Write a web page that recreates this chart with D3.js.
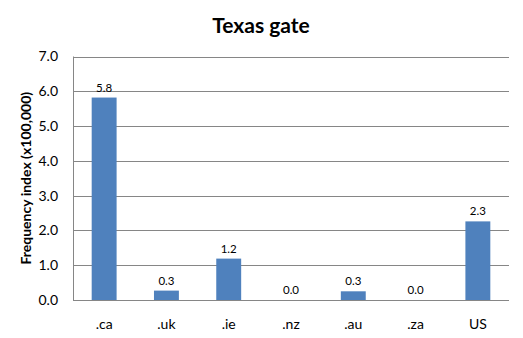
<!doctype html>
<html>
<head>
<script src="https://d3js.org/d3.v7.min.js"></script>
<style>
body { margin: 0; background: #fff; }
text { font-family: Lato, "Open Sans", sans-serif; }
</style>
</head>
<body>
<svg width="523" height="338"></svg>
<script>
var categories = [".ca", ".uk", ".ie", ".nz", ".au", ".za", "US"];
var values = [5.82, 0.27, 1.19, 0.0, 0.25, 0.0, 2.26];
var yTicks = [0, 1, 2, 3, 4, 5, 6, 7];

var svg = d3.select("svg");
var plotLeft = 73, plotRight = 509, plotTop = 56.5, plotBottom = 300;

var x = d3.scaleBand().domain(categories).range([plotLeft, plotRight]).paddingInner(0.6).paddingOuter(0.3);
var y = d3.scaleLinear().domain([0, 7]).range([plotBottom, plotTop]);

// gridlines
svg.append("g").selectAll("line").data(yTicks).enter().append("line")
	.attr("x1", plotLeft).attr("x2", plotRight)
	.attr("y1", d => Math.round(y(d)) + 0.5).attr("y2", d => Math.round(y(d)) + 0.5)
	.attr("stroke", "#868686").attr("stroke-width", 1);

// y axis line
svg.append("line")
	.attr("x1", plotLeft + 0.5).attr("x2", plotLeft + 0.5)
	.attr("y1", plotTop).attr("y2", plotBottom)
	.attr("stroke", "#868686");

// y tick labels
svg.append("g").selectAll("text").data(yTicks).enter().append("text")
	.attr("x", plotLeft - 15).attr("y", d => y(d))
	.attr("dy", "0.35em").attr("text-anchor", "end")
	.attr("font-size", 14).attr("fill", "#000")
	.text(d => d3.format(".1f")(d));

// bars
svg.append("g").selectAll("rect").data(values).enter().append("rect")
	.attr("x", (d, i) => x(categories[i]))
	.attr("width", x.bandwidth())
	.attr("y", d => y(d))
	.attr("height", d => plotBottom - y(d))
	.attr("fill", "#4F81BD");

// value labels
svg.append("g").selectAll("text").data(values).enter().append("text")
	.attr("x", (d, i) => x(categories[i]) + x.bandwidth() / 2)
	.attr("y", d => y(d) - 6)
	.attr("text-anchor", "middle")
	.attr("font-size", 11.5).attr("fill", "#000")
	.text(d => d3.format(".1f")(d));

// x labels
svg.append("g").selectAll("text").data(categories).enter().append("text")
	.attr("x", d => x(d) + x.bandwidth() / 2)
	.attr("y", 329)
	.attr("text-anchor", "middle")
	.attr("font-size", 14).attr("fill", "#000")
	.text(d => d);

// title
svg.append("text")
	.attr("x", 261).attr("y", 33)
	.attr("text-anchor", "middle")
	.attr("font-size", 21).attr("font-weight", "bold")
	.text("Texas gate");

// y axis title
svg.append("text")
	.attr("transform", "translate(31," + ((plotTop + plotBottom) / 2) + ") rotate(-90)")
	.attr("text-anchor", "middle")
	.attr("font-size", 14).attr("font-weight", "bold")
	.text("Frequency index (x100,000)");
</script>
</body>
</html>
